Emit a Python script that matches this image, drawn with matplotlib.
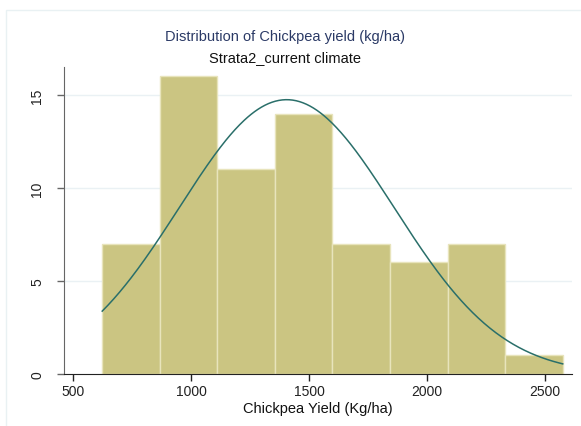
import numpy as np
import matplotlib
matplotlib.use("Agg")
import matplotlib.pyplot as plt
from matplotlib.patches import Rectangle

# Data
bin_start = 624.0
bin_width = 243.7
counts = [7, 16, 11, 14, 7, 6, 7, 1]
fit_mean = 1405.0
fit_sd = 455.0
xticks = [500, 1000, 1500, 2000, 2500]
yticks = [0, 5, 10, 15]

title = "Distribution of Chickpea yield (kg/ha)"
subtitle = "Strata2_current climate"
xlabel = "Chickpea Yield (Kg/ha)"

plt.rcParams['font.family'] = ['Liberation Sans', 'DejaVu Sans']

fig = plt.figure(figsize=(5.81, 4.27), dpi=100)
fig.patch.set_facecolor('white')
# outer frame
fig.patches.append(Rectangle((6/581, -0.1), 1.2, 1 - 11/427 + 0.1,
                             transform=fig.transFigure, fill=False,
                             edgecolor='#E9F1F3', linewidth=1.0))

ax = fig.add_axes([63.5/581, 1 - 375/427, (572 - 63.5)/581, (375 - 68)/427])

edges = bin_start + bin_width * np.arange(len(counts) + 1)
ax.bar(edges[:-1], counts, width=bin_width, align='edge',
       color='#CBC582', edgecolor='#E8E4BC', linewidth=1.0, zorder=2)

n = sum(counts)
xs = np.linspace(edges[0], edges[-1], 400)
ys = n * bin_width / (fit_sd * np.sqrt(2 * np.pi)) * np.exp(-(xs - fit_mean) ** 2 / (2 * fit_sd ** 2))
ax.plot(xs, ys, color='#2A6F6A', linewidth=1.1, zorder=3)

ax.set_xlim(460, 2613)
ax.set_ylim(0, 16.5)
ax.set_xticks(xticks)
ax.set_yticks(yticks)
ax.set_yticklabels([str(t) for t in yticks], rotation=90, va='center')
for t in yticks[1:]:
    ax.axhline(t, color='#EAF1F4', linewidth=1.0, zorder=1)

for s in ['top', 'right']:
    ax.spines[s].set_visible(False)
ax.spines['left'].set_color('#666666')
ax.spines['bottom'].set_color('#222222')
ax.tick_params(axis='both', direction='out', length=5, width=1, labelsize=10, colors='#222222')
ax.tick_params(axis='y', colors='#666666', labelcolor='#222222', pad=9)
ax.tick_params(axis='x', pad=2)

fig.text(285/581, 1 - 37/427, title, ha='center', va='center', fontsize=10.5, color='#2B3A66')
fig.text(285/581, 1 - 58/427, subtitle, ha='center', va='center', fontsize=10.5, color='#111111')
fig.text(318/581, 1 - 409/427, xlabel, ha='center', va='center', fontsize=10.5, color='#111111')

fig.savefig('out.png', dpi=100)
